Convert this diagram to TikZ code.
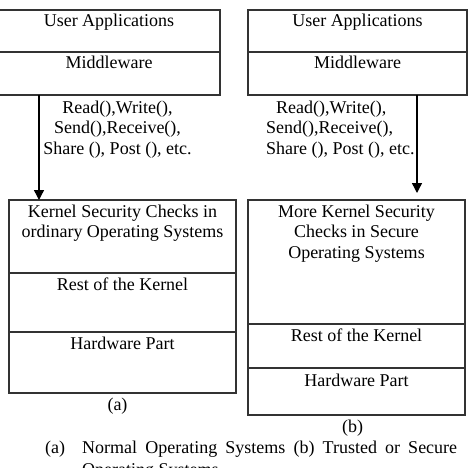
\documentclass[tikz,border=0pt]{standalone}
\usepackage{fontspec}
\setmainfont{Liberation Serif}
\usetikzlibrary{arrows.meta,positioning}

\begin{document}
\begin{tikzpicture}[
    x=1pt, y=-1pt,
    font=\fontsize{18}{20.5}\selectfont,
    layer/.style={draw=black!80, line width=1.1pt, outer sep=0pt, inner sep=0pt},
    lbl/.style={anchor=base, inner sep=0pt, align=center},
    arr/.style={-{Triangle[length=10pt,width=10pt]}, line width=1.4pt, draw=black}
]
\useasboundingbox (0,0) rectangle (471,468);

% (a) ordinary OS: user side
\node[layer, anchor=north west, minimum width=222pt, minimum height=42pt] (uaA) at (-2,10) {};
\node[layer, below=0pt of uaA, minimum width=222pt, minimum height=43pt] (mwA) {};
\node[lbl] (uaAtxt) at ([yshift=-17pt]uaA.north) {User Applications};
\node[lbl] (mwAtxt) at ([yshift=-17pt]mwA.north) {Middleware};

% (a) kernel side
\node[layer, anchor=north west, minimum width=227pt, minimum height=73pt] (kA) at (9,200) {};
\node[layer, below=0pt of kA, minimum width=227pt, minimum height=59pt] (restA) {};
\node[layer, below=0pt of restA, minimum width=227pt, minimum height=61pt] (hwA) {};
% base of a multi-line node sits on its last line
\node[lbl] (kAtxt) at ([yshift=-37.5pt]kA.north) {Kernel Security Checks in\\ordinary Operating Systems};
\node[lbl] (restAtxt) at ([yshift=-17pt]restA.north) {Rest of the Kernel};
\node[lbl] (hwAtxt) at ([yshift=-17pt]hwA.north) {Hardware Part};
\node[lbl] (subA) at ([xshift=-5pt,yshift=-17pt]hwA.south) {(a)};

% (b) secure OS: user side
\node[layer, anchor=north west, minimum width=219pt, minimum height=42pt] (uaB) at (248,10) {};
\node[layer, below=0pt of uaB, minimum width=219pt, minimum height=43pt] (mwB) {};
\node[lbl] (uaBtxt) at ([yshift=-17pt]uaB.north) {User Applications};
\node[lbl] (mwBtxt) at ([yshift=-17pt]mwB.north) {Middleware};

% (b) kernel side
\node[layer, anchor=north west, minimum width=217pt, minimum height=124pt] (kB) at (248,200) {};
\node[layer, below=0pt of kB, minimum width=217pt, minimum height=44pt] (restB) {};
\node[layer, below=0pt of restB, minimum width=217pt, minimum height=47pt] (hwB) {};
\node[lbl] (kBtxt) at ([yshift=-58pt]kB.north) {More Kernel Security\\Checks in Secure\\Operating Systems};
\node[lbl] (restBtxt) at ([yshift=-17pt]restB.north) {Rest of the Kernel};
\node[lbl] (hwBtxt) at ([yshift=-18pt]hwB.north) {Hardware Part};
\node[lbl] (subB) at ([xshift=-4pt,yshift=-17pt]hwB.south) {(b)};

% system calls
\node[lbl] (callsA) at (117.5,154) {Read(),Write(),\\Send(),Receive(),\\Share (), Post (), etc.};
\node[lbl, anchor=base west, align=left] (callsB) at (266,154) {\hspace*{10pt}Read(),Write(),\\Send(),Receive(),\\Share (), Post (), etc.};

\draw[arr] ([xshift=41pt]mwA.south west) -- ([xshift=30pt]kA.north west);
\draw[arr] ([xshift=169pt]mwB.south west) -- ([xshift=169pt,yshift=7pt]kB.north west);

% caption
\node[anchor=base west, inner sep=0pt] (caption) at (45,453) {\parbox[t]{412pt}{\baselineskip=22pt\hangindent=37pt\hangafter=1
    \makebox[37pt][l]{(a)}Normal Operating Systems (b) Trusted or Secure\linebreak Operating Systems}};

\end{tikzpicture}
\end{document}
